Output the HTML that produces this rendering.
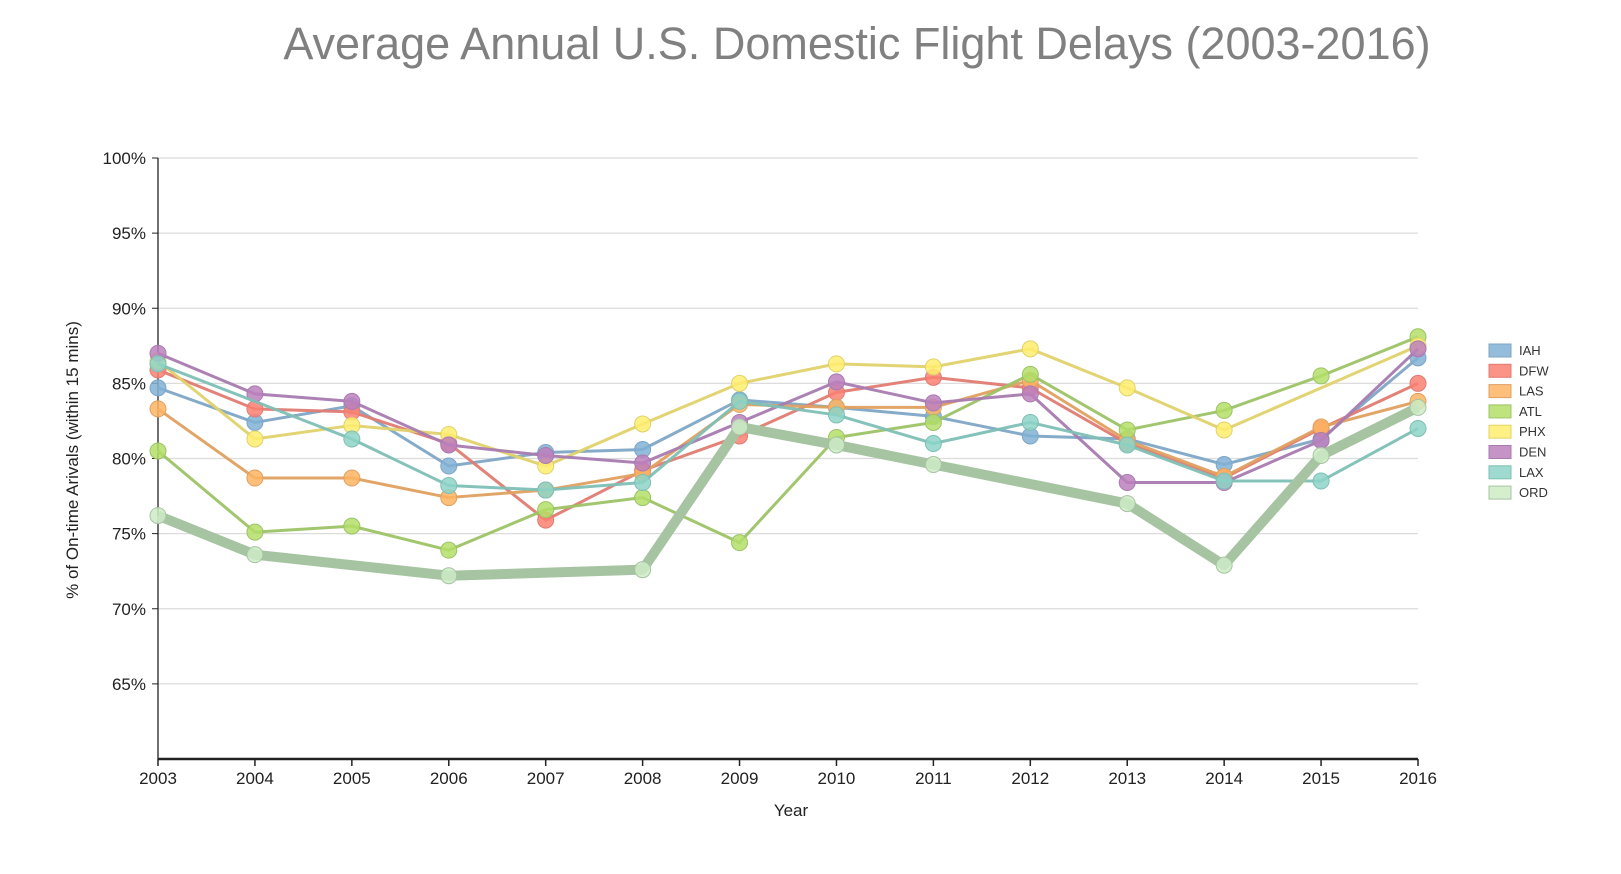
<!DOCTYPE html>
<html><head><meta charset="utf-8"><style>
body{margin:0;background:#fff;font-family:"Liberation Sans",sans-serif;}
svg text{font-family:"Liberation Sans",sans-serif;}
</style></head><body>
<svg id="chart" width="1621" height="869">
<text x="857" y="59" text-anchor="middle" font-size="45" fill="#808080">Average Annual U.S. Domestic Flight Delays (2003-2016)</text>
<g id="grid"></g><g id="axes"></g><g id="lines"></g><g id="legend"></g>
<text x="791" y="816" text-anchor="middle" font-size="17" fill="#222">Year</text>
<text transform="translate(78,460) rotate(-90)" text-anchor="middle" font-size="17" fill="#222">% of On-time Arivals (within 15 mins)</text>
</svg>
<script>
const years=[2003,2004,2005,2006,2007,2008,2009,2010,2011,2012,2013,2014,2015,2016];
const yTicks=[65,70,75,80,85,90,95,100];
const airports=["IAH","DFW","LAS","ATL","PHX","DEN","LAX","ORD"];
const IAH=[84.7,82.4,83.5,79.5,80.4,80.6,83.9,83.4,82.8,81.5,81.3,79.6,81.3,86.7];
const DFW=[85.9,83.3,83.1,81.0,75.9,79.2,81.5,84.4,85.4,84.7,81.0,78.7,82.0,85.0];
const LAS=[83.3,78.7,78.7,77.4,77.9,79.0,83.6,83.4,83.4,85.2,81.2,78.8,82.1,83.8];
const ATL=[80.5,75.1,75.5,73.9,76.6,77.4,74.4,81.4,82.4,85.6,81.9,83.2,85.5,88.1];
const PHX=[86.5,81.3,82.2,81.6,79.5,82.3,85.0,86.3,86.1,87.3,84.7,81.9,null,87.5];
const DEN=[87.0,84.3,83.8,80.9,80.2,79.7,82.4,85.1,83.7,84.3,78.4,78.4,81.2,87.3];
const LAX=[86.3,null,81.3,78.2,77.9,78.4,83.8,82.9,81.0,82.4,80.9,78.5,78.5,82.0];
const ORD=[76.2,73.6,null,72.2,null,72.6,82.1,80.9,79.6,null,77.0,72.9,80.2,83.4];
const series=[IAH,DFW,LAS,ATL,PHX,DEN,LAX,ORD];
const fills=["#80b1d3","#fb8072","#fdb462","#b3de69","#ffed6f","#bc80bd","#8dd3c7","#ccebc5"];
const strokes=["#7ea6c6","#e07b72","#e0a060","#9cc365","#e0d26a","#a87bb0","#7ebfb5","#a6c4a1"];
const NS="http://www.w3.org/2000/svg";
const L=158,R=1418,T=158,B=759,minV=60,maxV=100;
const x=y=>L+(y-years[0])/(years[years.length-1]-years[0])*(R-L);
const yv=v=>B-(v-minV)/(maxV-minV)*(B-T);
function mk(t,a,p){const e=document.createElementNS(NS,t);for(const k in a)e.setAttribute(k,a[k]);p.appendChild(e);return e;}
const grid=document.getElementById('grid'),axes=document.getElementById('axes');
yTicks.forEach(v=>{
 const g=mk('line',{x1:L,x2:R,y1:yv(v),y2:yv(v),stroke:"#dcdcdc","stroke-width":1.3},grid);
 
 
 mk('line',{x1:L-6,x2:L,y1:yv(v),y2:yv(v),stroke:"#222"},axes);
 const t=mk('text',{x:L-12,y:yv(v)+6,"text-anchor":"end","font-size":17,fill:"#222"},axes);
 t.textContent=v+"%";
 
 
});
const ya=mk('line',{x1:L,x2:L,y1:T,y2:B,stroke:"#222","stroke-width":1.3},axes);


const xa=mk('line',{x1:L,x2:R,y1:B,y2:B,stroke:"#222","stroke-width":2.5},axes);


years.forEach(y=>{
 mk('line',{x1:x(y),x2:x(y),y1:B,y2:B+7,stroke:"#222","stroke-width":1.5},axes);
 const t=mk('text',{x:x(y),y:B+25,"text-anchor":"middle","font-size":17,fill:"#222"},axes);
 t.textContent=y;
 
 
});
const lines=document.getElementById('lines');
series.forEach((s,i)=>{
 const g=mk('g',{},lines);
 
 
 const pts=[];s.forEach((v,j)=>{if(v!=null)pts.push(x(years[j])+","+yv(v));});
 mk('polyline',{points:pts.join(" "),fill:"none",stroke:strokes[i],"stroke-width":i==7?10:3,"stroke-opacity":i==7?1:0.95,"stroke-linejoin":"round"},g);
 s.forEach((v,j)=>{if(v==null)return;
  const c=mk('circle',{cx:x(years[j]),cy:yv(v),r:8,fill:fills[i],"fill-opacity":0.85,stroke:strokes[i],"stroke-width":1},g);
  
  
 });
});
const lg=document.getElementById('legend');
airports.forEach((a,i)=>{
 const g=mk('g',{},lg);
 
 
 const yy=344+i*20.3;
 mk('rect',{x:1489,y:yy,width:22,height:13,fill:fills[i],"fill-opacity":0.85,stroke:strokes[i]},g);
 const t=mk('text',{x:1519,y:yy+11,"font-size":13,fill:"#333"},g);t.textContent=a;
});
</script>
</body></html>
